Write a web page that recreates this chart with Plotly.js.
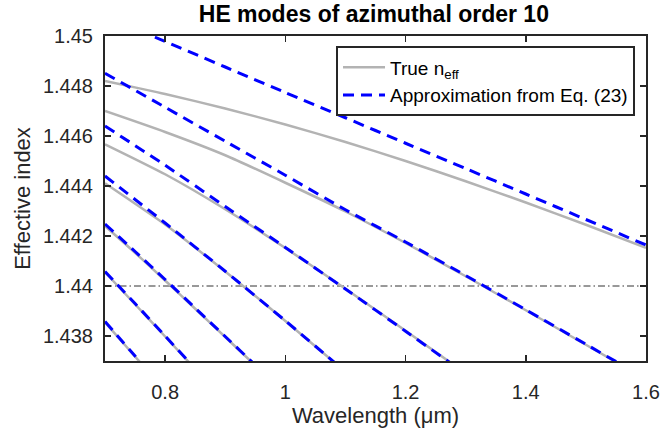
<!DOCTYPE html>
<html>
<head>
<meta charset="utf-8">
<script src="https://cdn.plot.ly/plotly-3.0.1.min.js"></script>
<style>html,body{margin:0;padding:0;background:#fff;}#chart{width:660px;height:431px;}</style>
</head>
<body>
<div id="chart"></div>
<script>
// Wavelength samples (µm)
const wlA = [0.7, 0.8, 0.9, 1.0, 1.1, 1.2, 1.3, 1.4, 1.5, 1.6];
const wlB = [0.7, 0.8, 0.9, 1.0, 1.1, 1.2, 1.3];
const wlC = [0.7, 0.8, 0.9, 1.0, 1.1];
const wlD = [0.7, 0.75, 0.8, 0.85, 0.9, 0.95, 1.0];
const wlE = [0.7, 0.75, 0.8, 0.85];
const wlF = [0.7, 0.75, 0.8];

// True effective index per mode
const true1 = [1.4482, 1.44768, 1.4471, 1.44646, 1.44576, 1.445, 1.44419, 1.44334, 1.44245, 1.44153];
const true2 = [1.447, 1.44616, 1.44523, 1.44413, 1.44298, 1.44172, 1.44039, 1.43903, 1.43765, 1.43627];
const true3 = [1.44567, 1.44447, 1.44307, 1.44152, 1.43989, 1.43821, 1.43651];
const true4 = [1.44411, 1.44246, 1.44058, 1.4386, 1.43657];
const true5 = [1.4424, 1.44133, 1.44022, 1.43909, 1.43796, 1.43682, 1.43568];
const true6 = [1.44055, 1.43927, 1.43798, 1.43668];
const true7 = [1.43855, 1.43718, 1.4358];

// Approximation from Eq. (23) per mode
const approx1 = [1.45079, 1.44978, 1.44876, 1.44774, 1.44673, 1.44571, 1.4447, 1.44368, 1.44266, 1.44164];
const approx2 = [1.44851, 1.44715, 1.44579, 1.44443, 1.44305, 1.44176, 1.44042, 1.43905, 1.43767, 1.43629];
const approx3 = [1.4464, 1.44483, 1.44318, 1.44154, 1.43988, 1.43819, 1.43649];
const approx4 = [1.4444, 1.44252, 1.44059, 1.43861, 1.43657];
const approx5 = [1.44248, 1.44138, 1.44026, 1.43912, 1.43798, 1.43684, 1.4357];
const approx6 = [1.44058, 1.4393, 1.438, 1.4367];
const approx7 = [1.43858, 1.4372, 1.43582];

// Reference level (cladding index line)
const refLevelX = [0.7, 1.6];
const refLevel = 1.44;

const xTickVals = [0.8, 1.0, 1.2, 1.4, 1.6];
const xTickText = ['0.8', '1', '1.2', '1.4', '1.6'];
const yTickVals = [1.438, 1.44, 1.442, 1.444, 1.446, 1.448, 1.45];
const yTickText = ['1.438', '1.44', '1.442', '1.444', '1.446', '1.448', '1.45'];

const trueSets = [[wlA, true1], [wlA, true2], [wlB, true3], [wlC, true4], [wlD, true5], [wlE, true6], [wlF, true7]];
const approxSets = [[wlA, approx1], [wlA, approx2], [wlB, approx3], [wlC, approx4], [wlD, approx5], [wlE, approx6], [wlF, approx7]];

const traces = [];
traces.push({
  x: refLevelX, y: refLevelX.map(() => refLevel), mode: 'lines', showlegend: false, hoverinfo: 'skip',
  line: {color: '#333333', width: 1, dash: '7px,3px,1.5px,3px'}
});
trueSets.forEach((s, i) => traces.push({
  x: s[0], y: s[1], mode: 'lines', name: 'True n<sub>eff</sub>', legendgroup: 'true',
  showlegend: i === 0, line: {color: '#b3b3b3', width: 2.5, shape: 'spline', smoothing: 0.6}
}));
approxSets.forEach((s, i) => traces.push({
  x: s[0], y: s[1], mode: 'lines', name: 'Approximation from Eq. (23)', legendgroup: 'approx',
  showlegend: i === 0, line: {color: '#0000ff', width: 3, dash: '11px,7px', shape: 'spline', smoothing: 0.6}
}));

const fontFam = 'Liberation Sans, Arial, sans-serif';
const axisCommon = {
  showgrid: false, zeroline: false, showline: true, linecolor: '#262626', linewidth: 2,
  mirror: 'ticks', ticks: 'inside', ticklen: 6, tickwidth: 1.5, tickcolor: '#262626',
  tickfont: {family: fontFam, size: 20, color: '#262626'}
};

const layout = {
  width: 660, height: 431,
  margin: {l: 105, r: 14, t: 36, b: 70},
  paper_bgcolor: '#ffffff', plot_bgcolor: '#ffffff',
  title: {text: '<b>HE modes of azimuthal order 10</b>', x: 0.497, xref: 'paper', xanchor: 'center', y: 0.968, yanchor: 'middle',
    font: {family: fontFam, size: 23, color: '#000000'}},
  xaxis: Object.assign({}, axisCommon, {
    range: [0.7, 1.6], tickvals: xTickVals, ticktext: xTickText, ticklabelstandoff: 12,
    title: {text: 'Wavelength (μm)', standoff: 0, font: {family: fontFam, size: 22, color: '#262626'}}
  }),
  yaxis: Object.assign({}, axisCommon, {
    range: [1.437, 1.45], tickvals: yTickVals, ticktext: yTickText, ticklabelstandoff: 6,
    title: {text: 'Effective index', standoff: 6, font: {family: fontFam, size: 22, color: '#262626'}}
  }),
  legend: {
    x: 0.9797, xanchor: 'right', y: 0.968, yanchor: 'top',
    bgcolor: '#ffffff', bordercolor: '#262626', borderwidth: 2,
    font: {family: fontFam, size: 19, color: '#000000'},
    tracegroupgap: 0, itemwidth: 42
  },
  showlegend: true
};

Plotly.newPlot('chart', traces, layout, {displayModeBar: false, staticPlot: true});
</script>
</body>
</html>
